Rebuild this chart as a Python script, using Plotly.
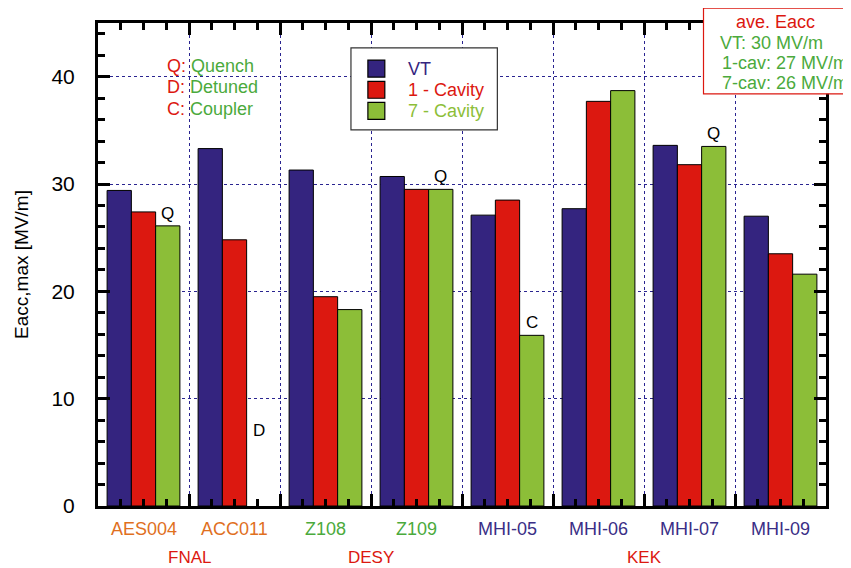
import plotly.graph_objects as go

cavities = ["AES004", "ACC011", "Z108", "Z109", "MHI-05", "MHI-06", "MHI-07", "MHI-09"]
cavity_colors = ["#E0701E", "#E0701E", "#4BAA3C", "#4BAA3C", "#3A2E86", "#3A2E86", "#3A2E86", "#3A2E86"]
labs = [("FNAL", 0.5), ("DESY", 2.5), ("KEK", 5.5)]

series_names = ["VT", "1 - Cavity", "7 - Cavity"]
vt = [29.4, 33.3, 31.3, 30.7, 27.1, 27.7, 33.6, 27.0]
one_cav = [27.4, 24.8, 19.5, 29.5, 28.5, 37.7, 31.8, 23.5]
seven_cav = [26.1, None, 18.3, 29.5, 15.9, 38.7, 33.5, 21.6]

notes = {0: "Q", 1: "D", 3: "Q", 4: "C", 6: "Q"}
key_lines = [("Q:", "Quench"), ("D:", "Detuned"), ("C:", "Coupler")]
ave_title = "ave. Eacc"
ave_lines = ["VT: 30 MV/m", "1-cav: 27 MV/m", "7-cav: 26 MV/m"]

C_VT = "#34247F"
C_1 = "#DC1810"
C_7 = "#8CBE38"
GREEN_TXT = "#4BAA3C"
GRID = "#2A2490"
font = "Liberation Sans, Arial, sans-serif"

# page body margin offset and plot-area geometry in page pixels (decorations only)
OFF = 8
PX0, PX1, PY0, PY1 = 95, 826, 22, 506
def px(x):
    return (x - PX0) / (PX1 - PX0)
def py(y):
    return (PY1 - y) / (PY1 - PY0)

x = list(range(len(cavities)))
fig = go.Figure()
colors = [C_VT, C_1, C_7]
for name, vals, col in zip(series_names, [vt, one_cav, seven_cav], colors):
    fig.add_trace(go.Bar(
        x=x, y=vals, name=name, showlegend=False,
        marker=dict(color=col, line=dict(color="black", width=1)),
    ))

ann = []
shapes = []
bw = 0.8 / 3
for i, t in notes.items():
    v = seven_cav[i]
    if v is None:
        ann.append(dict(x=i + bw, y=7, text=t, showarrow=False, xref="x", yref="y",
                        font=dict(size=17, color="black", family=font)))
    else:
        ann.append(dict(x=i + bw, y=v, text=t, showarrow=False, xref="x", yref="y",
                        yanchor="bottom", yshift=1, font=dict(size=17, color="black", family=font)))
for i, (c, col) in enumerate(zip(cavities, cavity_colors)):
    ann.append(dict(x=i, y=0, xref="x", yref="paper", yanchor="top", yshift=-11, text=c,
                    showarrow=False, font=dict(size=18, color=col, family=font)))
for lab, pos in labs:
    ann.append(dict(x=pos, y=0, xref="x", yref="paper", yanchor="top", yshift=-40, text=lab,
                    showarrow=False, font=dict(size=17, color=C_1, family=font)))

# Q/D/C key
for k, (a, b) in enumerate(key_lines):
    ann.append(dict(x=px(162), y=py(65 + 21.5 * k), xref="paper", yref="paper",
                    xanchor="left", yanchor="middle", showarrow=False,
                    text=f"<span style='color:{C_1}'>{a}</span> <span style='color:{GREEN_TXT}'>{b}</span>",
                    font=dict(size=18, family=font)))

# legend (manual)
shapes.append(dict(type="rect", xref="paper", yref="paper", x0=px(349), x1=px(496),
                   y0=py(129), y1=py(47), line=dict(color="#333333", width=1.2), fillcolor="white",
                   layer="above"))
for k, (name, col) in enumerate(zip(series_names, colors)):
    cy = 67.7 + 21.2 * k
    shapes.append(dict(type="rect", xref="paper", yref="paper", x0=px(366), x1=px(383),
                       y0=py(cy + 8.5), y1=py(cy - 8.5), line=dict(color="black", width=1.2),
                       fillcolor=col, layer="above"))
    ann.append(dict(x=px(404), y=py(cy), xref="paper", yref="paper", xanchor="left",
                    yanchor="middle", showarrow=False, text=name,
                    font=dict(size=18, color=(C_VT if k == 0 else col), family=font)))

# average box
shapes.append(dict(type="rect", xref="paper", yref="paper", x0=px(703), x1=px(849),
                   y0=py(93), y1=py(7), line=dict(color=C_1, width=1.2), fillcolor="white",
                   layer="above"))
ann.append(dict(x=px(775), y=py(21), xref="paper", yref="paper", xanchor="center",
                yanchor="middle", showarrow=False, text=ave_title,
                font=dict(size=18, color=C_1, family=font)))
for k, t in enumerate(ave_lines):
    ann.append(dict(x=px(718 + (2 if k else 0)), y=py(42 + 20.3 * k), xref="paper", yref="paper",
                    xanchor="left", yanchor="middle", showarrow=False, text=t,
                    font=dict(size=18, color=GREEN_TXT, family=font)))

W, H = 851 - OFF, 568 - OFF
fig.update_layout(
    width=W, height=H,
    margin=dict(l=PX0 - OFF, r=W - (PX1 - OFF), t=PY0 - OFF, b=H - (PY1 - OFF)),
    paper_bgcolor="white", plot_bgcolor="white",
    barmode="group", bargap=0.2, bargroupgap=0,
    font=dict(family=font, size=19, color="black"),
    showlegend=False,
    annotations=ann,
    shapes=shapes,
    xaxis=dict(range=[-0.5, 7.5], tickmode="linear", tick0=-0.5, dtick=1,
               showticklabels=False, ticks="inside", ticklen=12, tickwidth=3, tickcolor="black",
               showgrid=True, gridcolor=GRID, griddash="dot", gridwidth=1,
               showline=True, linecolor="black", linewidth=3, mirror="ticks", zeroline=False,
               minor=dict(tickmode="linear", tick0=-0.5, dtick=0.25, ticks="inside", ticklen=7,
                          tickwidth=3, tickcolor="black", showgrid=False)),
    yaxis=dict(range=[0, 45], tickmode="linear", tick0=0, dtick=10,
               ticks="inside", ticklen=12, tickwidth=3, tickcolor="black", ticklabelstandoff=16,
               showgrid=True, gridcolor=GRID, griddash="dot", gridwidth=1,
               showline=True, linecolor="black", linewidth=3, mirror="ticks", zeroline=False,
               tickfont=dict(size=21),
               title=dict(text="Eacc,max [MV/m]", font=dict(size=19), standoff=18),
               minor=dict(tickmode="linear", tick0=0, dtick=2, ticks="inside", ticklen=7,
                          tickwidth=3, tickcolor="black", showgrid=False)),
)

fig.write_html("out.html")
